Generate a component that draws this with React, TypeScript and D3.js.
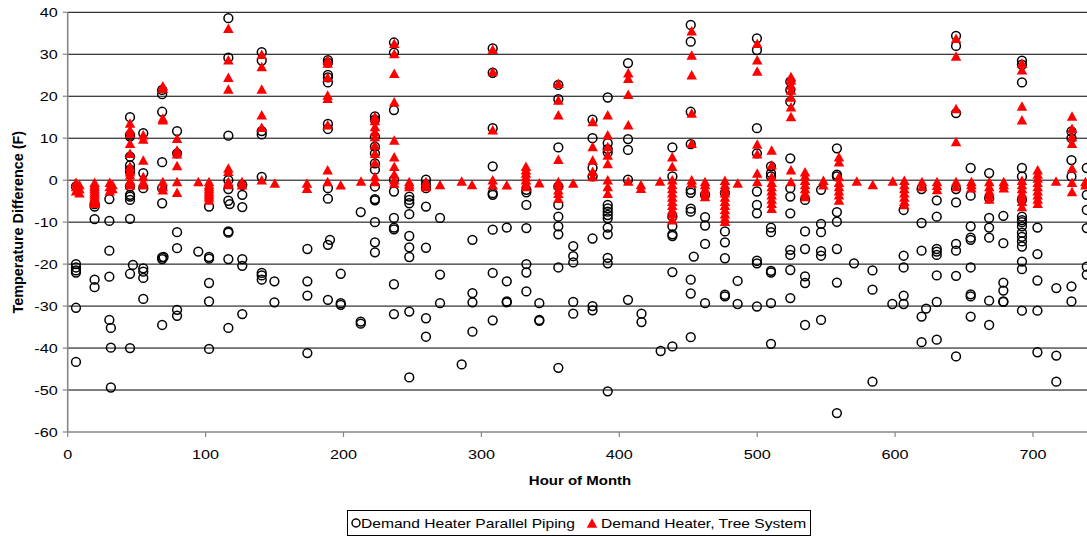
import React from "react";
import * as d3 from "d3";

// Hour of month and the temperature differences (F) logged at that hour.
const parallelPiping: [number, number[]][] = [
  [6, [-1.5, -20, -20.8, -21.5, -22, -30.4, -43.3]],
  [19.5, [-5.7, -6.3, -9.3, -23.7, -25.5]],
  [30.2, [-4.5, -9.7, -16.8, -23, -33.3]],
  [31.3, [-35.2, -39.9, -49.4]],
  [45.2, [15, 10.8, 10.4, 5.6, 3.5, 2.5, 2, -1.5, -3.5, -3.9, -4.7, -9.2, -22.3, -40]],
  [47.3, [-20.2]],
  [54.8, [11.2, 1.7, -1.9, -21, -21.8, -23.3, -28.3]],
  [68.5, [21.5, 20.5, 16.3, 4.3, -1.9, -5.5, -18.4, -18.8, -34.5]],
  [69.5, [-18.3]],
  [79.3, [11.7, 6.4, -12.4, -16.2, -30.9, -32.3]],
  [94.7, [-17]],
  [102.5, [-6.3, -18.3, -18.7, -24.5, -28.9, -40.2]],
  [116.5, [38.6, 29.2, 10.6, 0, -2.1, -4.9, -12.2, -12.5, -18.8, -35.2]],
  [117.5, [-5.7]],
  [126.6, [-1.1, -3.5, -6.4, -18.8, -20.4, -31.9]],
  [140.7, [30.5, 28.5, 11.7, 10.9, 0.8, -22.1, -22.7, -23.7]],
  [149.9, [-24.1, -29.1]],
  [173.8, [-16.4, -24.1, -27.5, -41.2]],
  [188.7, [28.6, 28, 25.1, 24.5, 23.3, 13.4, 12.2, -1.9, -4.4, -15.4, -28.5]],
  [190.2, [-14.2]],
  [198, [-22.3, -29.3, -29.7]],
  [212.5, [-7.6, -33.7, -34.2]],
  [222.8, [15.2, 14.4, 10.4, 8, 6.4, 4, 2.5, -1.5, -4.5, -4.8, -10, -14.8, -17.2]],
  [236.6, [32.8, 30.4, 16.7, 0.1, -2.7, -9, -11.3, -11.7, -24.8, -31.9]],
  [247.7, [-3.9, -4.7, -5.5, -8.1, -13.3, -16, -18.3, -31.3, -47]],
  [259.8, [0.1, -1, -1.9, -6.3, -16.1, -32.9, -37.3]],
  [270, [-9, -22.5, -29.3]],
  [285.7, [-43.9]],
  [293.5, [-14.2, -26.9, -29.1, -36.1]],
  [308.2, [31.4, 25.6, 12.4, 3.3, -3.1, -3.5, -11.8, -22.1, -33.4]],
  [318.4, [-11.3, -24.1, -28.9, -29.1]],
  [332.6, [-2.3, -2.9, -5.9, -11.4, -20, -22, -26.5]],
  [342, [-29.3, -33.3, -33.5]],
  [355.8, [22.7, 19.3, 7.8, -1.5, -5.9, -8.7, -11, -12.9, -20.8, -44.7]],
  [366.6, [-15.7, -18.1, -19.6, -29, -31.8]],
  [380.6, [14.4, 10, 2.9, 0.9, -13.9, -30, -31]],
  [391.6, [19.7, 8.8, 7.4, 6.6, -5.9, -6.7, -7.5, -8.3, -9.1, -11.3, -12.9, -18.5, -19.8, -50.3]],
  [406.3, [27.9, 9.8, 7.2, 0.1, -28.5]],
  [416.1, [-31.8, -33.8]],
  [430, [-40.7]],
  [438.5, [7.8, 0.9, -8.7, -11, -12.9, -13.3, -21.9, -39.6]],
  [451.8, [37, 33, 16.3, 8.6, -2.3, -3, -6.8, -7.5, -23.7, -27, -37.4]],
  [454, [-18.2]],
  [462.2, [-3.5, -8.8, -10.8, -15.2, -29.3]],
  [476.6, [-3, -12.2, -14.8, -18.6, -27.3, -27.7]],
  [485.8, [-24, -29.5]],
  [499.8, [33.8, 31, 12.4, 6.4, -2.7, -5.9, -7.9, -19.2, -19.8, -30.1]],
  [510, [3.3, 1.7, 0.9, -11.3, -12.4, -21.6, -22, -29.3, -39]],
  [524, [23.5, 21.5, 18.7, 5.2, -1.9, -3.9, -7.9, -16.6, -17.8, -21.4, -28.1]],
  [534.7, [-4.7, -12.2, -16.4, -22.9, -24.5, -34.5]],
  [546.3, [-2.3, -10.4, -12.4, -16.9, -18, -33.3]],
  [557.8, [7.6, 1.3, 0.9, -7.6, -9.9, -16.4, -24.4, -55.5]],
  [570.2, [-19.8]],
  [583.6, [-21.5, -26.1, -48]],
  [598, [-29.5]],
  [606.2, [-7.1, -18, -20.8, -27.5, -29.5]],
  [619.2, [-2.1, -10.2, -16.8, -32.5, -38.6]],
  [622.5, [-30.6]],
  [630.2, [-4.8, -8.7, -16.4, -17, -17.8, -22.7, -29, -38]],
  [644.2, [34.4, 32, 16, -2.1, -5.3, -15.2, -16.8, -22.8, -42]],
  [654.8, [2.9, -3.7, -11, -13.7, -14.2, -20.8, -27.2, -27.7, -32.5]],
  [668.2, [1.7, -4.3, -9, -11.3, -13.7, -28.7, -34.5]],
  [678.5, [-8.5, -15, -24.4, -26.3, -28.9, -29]],
  [692, [28.5, 27.5, 23.3, 2.9, 0.9, -4.7, -8.7, -9.5, -10, -11, -12.5, -13.5, -14.6, -15.8, -19.4, -21.2, -31.1]],
  [703.2, [-11.3, -17.6, -23.9, -31.1, -41]],
  [716.9, [-25.7, -41.8, -48]],
  [727.9, [11.6, 10, 4.8, 0.9, -25.3, -28.9]],
  [739, [2.9, -3.5, -7.1, -11.4, -20.6, -22.5]],
];

const treeSystem: [number, number[]][] = [
  [6, [-0.5, -1.5, -2.5]],
  [8.5, [-1, -2, -3]],
  [19.5, [-0.5, -1, -1.5, -2, -2.5, -3, -3.5, -4, -4.5, -5, -5.5]],
  [30.5, [-0.5, -1.5, -2.5]],
  [32.5, [-1, -2]],
  [45.2, [13.6, 12, 11.2, 8.8, 6.4, 3.3, 2.5, 2, 1.3, 0, -0.5, -1.1]],
  [54.8, [10.8, 9.8, 4.8, 0.9, -0.3, -1.1]],
  [69, [22.5, 21.9, 14.8, 14.4, -0.3, -1.5, -2.3]],
  [79.3, [10, 7.2, 6.3, 3.5, -0.3, -2.9]],
  [94.7, [-0.3]],
  [102.5, [-0.3, -1, -1.5, -2, -2.5, -3, -3.5, -4, -4.7]],
  [116.5, [36.2, 28.7, 24.5, 21.7, 2.9, 2.1, -0.3, -1]],
  [126.4, [-0.3, -1.1]],
  [140.7, [30, 27.1, 21.7, 15.6, 12.6, 0.1]],
  [150.2, [-0.7]],
  [173.5, [-0.7, -1.9]],
  [188.5, [28.7, 27.9, 24.6, 20.3, 19.5, 13.2, 2.5, -0.3]],
  [198, [-1.1]],
  [212.7, [-0.2]],
  [222.8, [15.2, 14.2, 12.8, 11.6, 10.4, 8.4, 6.4, 4.3, 0.9, -0.3]],
  [236.8, [32.6, 30.2, 25.5, 18.7, 9.6, 5.6, 3.3, 1.5, 0.1, -0.7]],
  [247.7, [-0.3, -0.9, -1.5]],
  [259.8, [-0.3, -1, -1.5]],
  [270, [-1]],
  [285.7, [-0.2]],
  [293.2, [-1]],
  [308.2, [31.2, 25.9, 12, 0.1, -1.1]],
  [318.4, [-1.1]],
  [332.3, [3.3, 2.5, 1.7, 0.9, 0.1, -0.7, -1.5]],
  [342, [-0.6]],
  [355.8, [23.1, 19.1, 15.6, 5, -0.3, -1.1, -2.3, -3.1, -4.3]],
  [366.6, [-0.7]],
  [380.7, [14, 8, 4.8, 2.1, 0.9]],
  [391.6, [15.6, 10.8, 8, 6, 4, 0.1, -1.5, -3.1]],
  [406.5, [25.6, 24.3, 20.5, 13.2, -0.2]],
  [415.7, [-1, -1.9]],
  [429.5, [-0.2]],
  [438.4, [5.6, 3.3, 0.1, -1, -2, -3, -4, -5, -6, -7, -8, -9.4]],
  [452.5, [35.6, 29.8, 25.1, 16, 8.8, 0.1, -0.7]],
  [462.2, [-0.3, -1, -2, -3, -3.9]],
  [476.6, [0, -1, -2, -3, -4, -5, -6, -7, -8, -9, -9.8]],
  [485.9, [-0.7]],
  [500, [32.6, 28.7, 26, 8.6, 6.3, 1.7, -0.3]],
  [510.5, [7.2, 3.7, 0.9, -0.5, -1.5, -2.5, -3.5, -4.5, -5.5, -6.7]],
  [524.5, [24.7, 23.9, 22.7, 21.5, 19.8, 17.5, 15.2, 2.5, -0.3]],
  [534.7, [2, 1, 0, -1, -2, -3, -3.9]],
  [548, [0, -1.1]],
  [559.3, [5.6, 4.4, 0.9, -0.5, -1.5, -2.5, -3.5, -4.7]],
  [572.2, [-0.2]],
  [583.8, [-1]],
  [598.3, [-0.2]],
  [606.7, [0, -1, -2, -3, -4, -5, -5.8]],
  [619.5, [-0.3, -1.5]],
  [630.4, [-0.3, -1.2, -2.2]],
  [644.2, [33.8, 29.6, 17.1, 9.2, -0.3, -1.5]],
  [655.3, [-0.3, -1, -1.8]],
  [668.3, [-0.3, -1.5, -2.5, -3.5, -4.5]],
  [678.8, [-0.3, -1, -1.8]],
  [692, [27.9, 26.3, 17.7, 14.4, 0, -1, -2, -3, -4, -5, -6.3]],
  [703.4, [2.5, 1.5, 0.5, -0.5, -1.5, -2.5, -3.5, -4.5, -5.5]],
  [716.7, [-0.2]],
  [728.3, [15.3, 12.4, 10.4, 8.8, 2.9, -0.5, -2.7]],
  [738, [-0.3, -1.1]],
];

const xTicks = [0, 100, 200, 300, 400, 500, 600, 700];
const yTicks = [40, 30, 20, 10, 0, -10, -20, -30, -40, -50, -60];
const seriesNames = ["Demand Heater Parallel Piping", "Demand Heater, Tree System"];

const W = 1087;
const H = 537;
const font = "'Liberation Sans', Arial, Helvetica, sans-serif";
// text in this chart is set slightly wide
const STRETCH = 1.2;

const flatten = (rows: [number, number[]][]) =>
  rows.flatMap(([h, vals]) => vals.map((v) => ({ h, v })));

const trianglePath = (cx: number, cy: number, w = 10.5, hgt = 9.5) =>
  `M${cx},${cy - hgt / 2}L${cx + w / 2},${cy + hgt / 2}L${cx - w / 2},${cy + hgt / 2}Z`;

type WideTextProps = {
  x: number;
  y: number;
  size: number;
  anchor?: "start" | "middle" | "end";
  bold?: boolean;
  dy?: string;
  children: React.ReactNode;
};

function WideText({ x, y, size, anchor = "start", bold, dy, children }: WideTextProps) {
  return (
    <g transform={`translate(${x},${y}) scale(${STRETCH},1)`}>
      <text x={0} y={0} dy={dy} textAnchor={anchor} fontSize={size} fontWeight={bold ? "bold" : "normal"} fill="#000">
        {children}
      </text>
    </g>
  );
}

export default function App() {
  const x = d3.scaleLinear().domain([0, 744]).range([67.7, 67.7 + 744 * 1.379]);
  const y = d3.scaleLinear().domain([-60, 40]).range([432, 12.3]);

  const circles = flatten(parallelPiping);
  const triangles = flatten(treeSystem);
  const x0 = x(0);
  const yBottom = y(-60);

  return (
    <svg
      width={W}
      height={H}
      style={{ position: "absolute", left: 0, top: 0, background: "#fff" }}
      fontFamily={font}
    >
      {/* horizontal gridlines */}
      {yTicks
        .filter((t) => t !== -60)
        .map((t) => (
          <line key={"g" + t} x1={x0} x2={W} y1={y(t)} y2={y(t)} stroke="#000" strokeWidth={1} />
        ))}

      {/* axes */}
      <line x1={x0} x2={x0} y1={y(40)} y2={yBottom} stroke="#868686" strokeWidth={1.6} />
      <line x1={x0} x2={W} y1={yBottom} y2={yBottom} stroke="#868686" strokeWidth={1.6} />
      {yTicks.map((t) => (
        <g key={"yt" + t}>
          <line x1={x0 - 5} x2={x0} y1={y(t)} y2={y(t)} stroke="#868686" strokeWidth={1.2} />
          <WideText x={x0 - 10} y={y(t)} dy="0.36em" anchor="end" size={13.5}>
            {t}
          </WideText>
        </g>
      ))}
      {xTicks.map((t) => (
        <g key={"xt" + t}>
          <line x1={x(t)} x2={x(t)} y1={yBottom} y2={yBottom + 5} stroke="#868686" strokeWidth={1.2} />
          <WideText x={x(t)} y={yBottom + 27} anchor="middle" size={13.5}>
            {t}
          </WideText>
        </g>
      ))}

      {/* axis titles */}
      <g transform={`translate(23,${(y(40) + yBottom) / 2}) rotate(-90) scale(1.15,1.2)`}>
        <text x={0} y={0} textAnchor="middle" fontSize={12.5} fontWeight="bold">
          Temperature Difference (F)
        </text>
      </g>
      <WideText x={580} y={485} anchor="middle" size={12.5} bold>
        Hour of Month
      </WideText>

      {/* series 1: open circles */}
      <g>
        {circles.map((d, i) => (
          <circle key={"c" + i} cx={x(d.h)} cy={y(d.v)} r={4.4} fill="none" stroke="#000" strokeWidth={1.5} />
        ))}
      </g>
      {/* series 2: filled red triangles */}
      <g>
        {triangles.map((d, i) => (
          <path key={"t" + i} d={trianglePath(x(d.h), y(d.v))} fill="#ff0000" />
        ))}
      </g>

      {/* legend */}
      <rect x={347.5} y={510.5} width={463} height={25} fill="#fff" stroke="#000" strokeWidth={1} />
      <circle cx={356} cy={523} r={4} fill="none" stroke="#000" strokeWidth={1.5} />
      <WideText x={361} y={527.5} size={13}>
        {seriesNames[0]}
      </WideText>
      <path d={trianglePath(592, 523)} fill="#ff0000" />
      <WideText x={601} y={527.5} size={13}>
        {seriesNames[1]}
      </WideText>
    </svg>
  );
}
